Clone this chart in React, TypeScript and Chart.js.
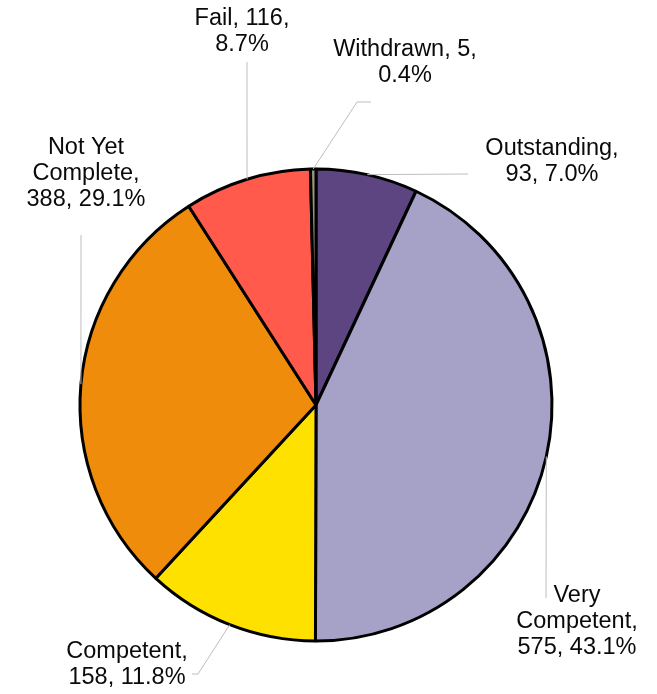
import React, { useEffect, useRef } from "react";
import { Chart, registerables } from "chart.js";

Chart.register(...registerables);

const categories = ["Outstanding", "Very Competent", "Competent", "Not Yet Complete", "Fail", "Withdrawn"];
const counts = [93, 575, 158, 388, 116, 5];
const sliceColors = ["#5C4580", "#A6A2C7", "#FFE100", "#F08C0B", "#FF5A4B", "#9A9677"];
// how many words go on each label line
const lineGroups = [[1, 2], [1, 1, 2], [1, 2], [2, 1, 2], [2, 1], [2, 1]];
// centre of the first label line
const labelCenters = [[552, 149], [577, 596], [127, 652], [86, 148], [242, 19], [405, 50]];
// leader line waypoints after the slice anchor
const leaderPaths = [
  [[468, 174]],
  [[546, 598]],
  [[198, 674], [192, 674]],
  [[81, 235]],
  [[247, 62]],
  [[357, 102], [371, 102]],
];

const FONT = "23.5px 'Liberation Sans', Arial, sans-serif";
const LINE_H = 26;

const labelPlugin = {
  id: "outerLabels",
  afterDraw(chart: any) {
    const ctx = chart.ctx;
    const meta = chart.getDatasetMeta(0);
    const data = chart.data.datasets[0].data as number[];
    const total = data.reduce((a, b) => a + b, 0);
    ctx.save();
    meta.data.forEach((arc: any, i: number) => {
      const p = arc.getProps(["x", "y", "startAngle", "endAngle", "outerRadius"], true);
      const mid = (p.startAngle + p.endAngle) / 2;
      const ax = p.x + Math.cos(mid) * p.outerRadius;
      const ay = p.y + Math.sin(mid) * p.outerRadius;
      ctx.beginPath();
      ctx.strokeStyle = "#BDBDBD";
      ctx.lineWidth = 1;
      ctx.moveTo(ax, ay);
      leaderPaths[i].forEach(([x, y]) => ctx.lineTo(x, y));
      ctx.stroke();

      const pct = ((data[i] / total) * 100).toFixed(1);
      const words = [...`${chart.data.labels[i]},`.split(" "), `${data[i]},`, `${pct}%`];
      const lines: string[] = [];
      let k = 0;
      lineGroups[i].forEach((n) => {
        lines.push(words.slice(k, k + n).join(" "));
        k += n;
      });
      ctx.fillStyle = "#0A0A0A";
      ctx.font = FONT;
      ctx.textAlign = "center";
      ctx.textBaseline = "middle";
      const [cx, cy] = labelCenters[i];
      lines.forEach((l, j) => ctx.fillText(l, cx, cy + j * LINE_H));
    });
    ctx.restore();
  },
};

export default function App() {
  const ref = useRef<HTMLCanvasElement>(null);
  useEffect(() => {
    if (!ref.current) return;
    const chart = new Chart(ref.current, {
      type: "pie",
      data: {
        labels: categories,
        datasets: [
          {
            data: counts,
            backgroundColor: sliceColors,
            borderColor: "#000000",
            borderWidth: 3,
            radius: 236,
          } as any,
        ],
      },
      options: {
        responsive: false,
        animation: false,
        devicePixelRatio: 1,
        layout: { padding: { left: 0, right: 25, top: 116, bottom: 0 } },
        plugins: { legend: { display: false }, tooltip: { enabled: false } },
      },
      plugins: [labelPlugin],
    });
    return () => chart.destroy();
  }, []);
  return (
    <div style={{ position: "fixed", left: 0, top: 0, width: 657, height: 694, background: "#fff" }}>
      <canvas ref={ref} width={657} height={694} />
    </div>
  );
}
